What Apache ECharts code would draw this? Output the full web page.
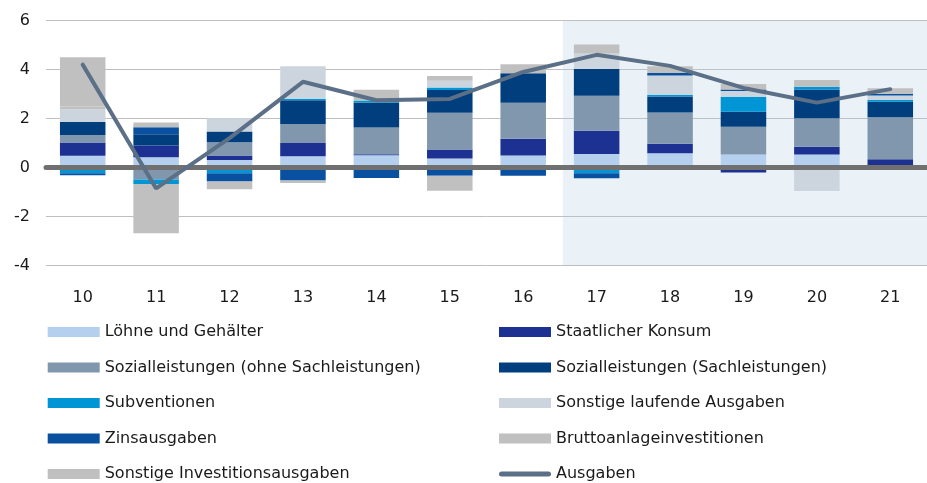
<!DOCTYPE html>
<html>
<head>
<meta charset="utf-8">
<title>Ausgaben</title>
<script src="https://cdn.jsdelivr.net/npm/echarts@6/dist/echarts.min.js"></script>
<style>
  html, body { margin: 0; padding: 0; background: #fff; }
  #chart { width: 927px; height: 483px; }
</style>
</head>
<body>
<div id="chart"></div>
<script>
// years (20xx)
const years = ['10', '11', '12', '13', '14', '15', '16', '17', '18', '19', '20', '21']

// contributions
const loehne = [0.48, 0.42, 0.31, 0.46, 0.50, 0.37, 0.49, 0.56, 0.59, 0.54, 0.54, 0]
const staatlKonsum = [0.54, 0.48, 0.18, 0.54, 0.05, 0.37, 0.69, 0.94, 0.38, -0.2, 0.31, 0.34]
const sozOhne = [0.31, -0.48, 0.54, 0.78, 1.09, 1.5, 1.47, 1.43, 1.28, 1.13, 1.16, 1.71]
const sozSach = [0.53, 0.46, 0.44, 0.97, 1.02, 0.93, 1.2, 1.09, 0.65, 0.61, 1.18, 0.64]
const subventionen = [-0.23, -0.19, -0.23, 0.05, 0.08, 0.1, 0, -0.23, 0.07, 0.61, 0.11, 0.07]
const sonstLaufend = [0.52, 0, 0.54, 1.33, 0, 0.27, 0, 0.63, 0.79, 0.23, -0.95, 0.18]
const zins = [-0.08, 0.29, -0.34, -0.53, -0.42, -0.33, -0.33, -0.2, 0.1, 0.07, 0, 0.07]
const brutto = [0.11, 0.19, 0, 0, 0.44, 0.2, 0.37, 0.37, 0.27, 0.22, 0.27, 0.23]
const sonstInvest = [2.01, -2.01, -0.31, -0.1, 0, -0.61, 0, 0, 0, 0, 0, 0]
const ausgaben = [4.2, -0.85, 1.2, 3.5, 2.75, 2.8, 3.9, 4.6, 4.15, 3.25, 2.65, 3.2]

const chart = echarts.init(document.getElementById('chart'))
const font = 'DejaVu Sans'
const lineColor = '#5b6f86'

function bar(name, data, color) {
  return {
    name: name,
    type: 'bar',
    stack: 'total',
    barWidth: '62%',
    itemStyle: { color: color },
    data: data,
    z: 2
  }
}

const legendBase = {
  orient: 'vertical',
  top: 324,
  height: 200, // keep all five rows in one column
  padding: 0,
  icon: 'rect',
  itemWidth: 52,
  itemHeight: 10,
  itemGap: 19.5,
  selectedMode: false,
  textStyle: { fontFamily: font, fontSize: 16, color: '#1a1a1a' }
}

chart.setOption({
  animation: false,
  textStyle: { fontFamily: font },
  grid: { left: 46, top: 20.5, width: 886, height: 245.2 },
  legend: [
    Object.assign({}, legendBase, {
      left: 47.7,
      data: ['Löhne und Gehälter', 'Sozialleistungen (ohne Sachleistungen)', 'Subventionen', 'Zinsausgaben', 'Sonstige Investitionsausgaben']
    }),
    Object.assign({}, legendBase, {
      left: 499,
      data: ['Staatlicher Konsum', 'Sozialleistungen (Sachleistungen)', 'Sonstige laufende Ausgaben', 'Bruttoanlageinvestitionen',
        // thick rounded line as in the original key
        { name: 'Ausgaben', icon: 'path://M2.5,0 L49.5,0 A2.5,2.5 0 0 1 49.5,5 L2.5,5 A2.5,2.5 0 0 1 2.5,0 Z' }]
    })
  ],
  xAxis: [{
    type: 'category',
    data: years,
    axisLine: { show: false, onZero: false },
    axisTick: { show: false },
    axisLabel: { fontFamily: font, fontSize: 16, color: '#1a1a1a', margin: 24 }
  }, {
    // helper axis: draws the thick zero line and positions the shaded forecast area
    type: 'value',
    position: 'top',
    min: -0.5,
    max: 11.5,
    z: 3,
    axisLine: { show: true, onZero: true, lineStyle: { color: '#707070', width: 5 } },
    axisTick: { show: false },
    axisLabel: { show: false },
    splitLine: { show: false }
  }],
  yAxis: {
    type: 'value',
    min: -4,
    max: 6,
    interval: 2,
    axisLine: { show: false },
    axisTick: { show: false },
    axisLabel: { fontFamily: font, fontSize: 16, color: '#1a1a1a', margin: 16 },
    splitLine: { lineStyle: { color: '#bfbfbf', width: 1 } }
  },
  series: [
    bar('Löhne und Gehälter', loehne, '#b4d0ee'),
    bar('Staatlicher Konsum', staatlKonsum, '#1c3191'),
    bar('Sozialleistungen (ohne Sachleistungen)', sozOhne, '#8097ad'),
    bar('Sozialleistungen (Sachleistungen)', sozSach, '#003e7e'),
    bar('Subventionen', subventionen, '#0095d5'),
    bar('Sonstige laufende Ausgaben', sonstLaufend, '#ccd5de'),
    bar('Zinsausgaben', zins, '#0a50a0'),
    bar('Bruttoanlageinvestitionen', brutto, '#c0c0c0'),
    bar('Sonstige Investitionsausgaben', sonstInvest, '#c0c0c0'),
    {
      name: 'Ausgaben',
      type: 'line',
      data: ausgaben,
      symbol: 'none',
      z: 4,
      itemStyle: { color: lineColor },
      lineStyle: { color: lineColor, width: 4, cap: 'round' }
    },
    {
      // light veil over the forecast years 17-21
      name: 'prognose',
      type: 'line',
      xAxisIndex: 1,
      data: [],
      z: 10,
      clip: false,
      silent: true,
      markArea: {
        silent: true,
        itemStyle: { color: 'rgba(173,199,222,0.25)' },
        data: [[{ coord: [6.54, 6] }, { coord: [11.5, -4.2] }]]
      }
    }
  ]
})
</script>
</body>
</html>
